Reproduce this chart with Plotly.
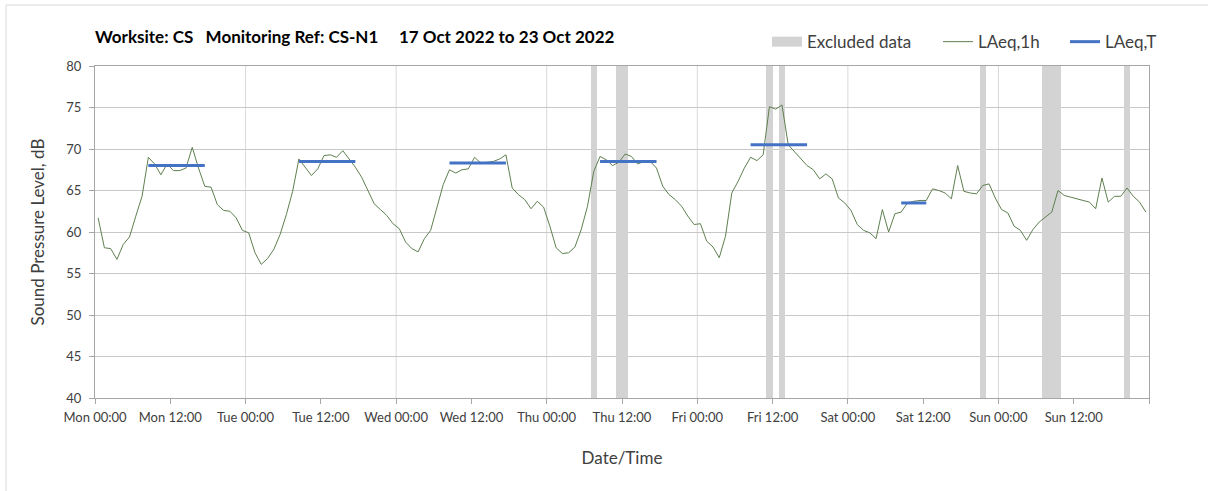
import plotly.graph_objects as go
import pandas as pd

# hourly LAeq,1h, Mon 17 Oct 2022 00:00 .. Sun 23 Oct 2022 23:00
laeq_1h = [
    61.7, 58.1, 58.0, 56.7, 58.5, 59.4, 61.9, 64.3, 69.0, 68.2, 66.9, 68.2,
    67.4, 67.4, 67.7, 70.2, 67.7, 65.5, 65.4, 63.3, 62.6, 62.5, 61.7, 60.2,
    59.9, 57.5, 56.1, 56.8, 57.9, 59.7, 62.1, 64.9, 68.8, 67.8, 66.8, 67.6,
    69.2, 69.3, 69.0, 69.8, 68.8, 67.8, 66.6, 65.1, 63.4, 62.7, 62.0, 61.0,
    60.4, 58.8, 58.0, 57.6, 59.2, 60.2, 62.9, 65.7, 67.5, 67.1, 67.5, 67.6,
    69.0, 68.3, 68.4, 68.5, 68.8, 69.3, 65.3, 64.5, 63.9, 62.8, 63.7, 63.0,
    60.7, 58.1, 57.4, 57.5, 58.2, 60.3, 63.1, 67.3, 69.1, 68.7, 68.0, 68.4,
    69.4, 69.1, 68.2, 68.5, 68.5, 67.7, 65.5, 64.5, 63.9, 63.1, 61.9, 60.9,
    61.0, 58.9, 58.2, 56.9, 59.5, 64.7, 66.1, 67.7, 69.0, 68.6, 69.3, 75.1,
    74.8, 75.3, 70.5, 69.7, 68.8, 68.0, 67.5, 66.4, 67.0, 66.4, 64.1, 63.5,
    62.6, 60.9, 60.2, 59.9, 59.2, 62.7, 60.0, 62.2, 62.4, 63.5, 63.7, 63.8,
    63.8, 65.2, 65.0, 64.7, 64.0, 68.0, 64.9, 64.7, 64.6, 65.6, 65.8, 64.1,
    62.7, 62.3, 60.7, 60.2, 59.0, 60.3, 61.2, 61.8, 62.4, 65.0, 64.4, 64.2,
    64.0, 63.8, 63.6, 62.8, 66.5, 63.6, 64.3, 64.3, 65.3, 64.3, 63.6, 62.4,
]

# hours (from Mon 00:00) flagged as excluded
excluded_hours = [79, 83, 84, 107, 109, 141, 151, 152, 153, 164]

# LAeq,T per day: day index, first hour, last hour, level
laeq_t_day = [0, 1, 2, 3, 4, 5]
laeq_t_first = [8, 8, 8, 8, 8, 8]
laeq_t_last = [17, 17, 17, 17, 17, 12]
laeq_t_value = [68.0, 68.5, 68.3, 68.5, 70.5, 63.5]

start = pd.Timestamp("2022-10-17 00:00")
end = pd.Timestamp("2022-10-24 00:00")
half = pd.Timedelta(minutes=30)
hour = pd.Timedelta(hours=1)

times = [start + i * hour + half for i in range(len(laeq_1h))]

fig = go.Figure()

fig.add_trace(go.Bar(
    x=[start + h * hour + half for h in excluded_hours],
    y=[80] * len(excluded_hours),
    width=3600000,
    marker_color="#D3D3D3",
    marker_line_width=0,
    showlegend=False,
    legendgroup="excl",
    hoverinfo="skip",
))
# legend swatch for the excluded bands (wide grey block)
fig.add_trace(go.Scatter(
    x=[None], y=[None], mode="lines",
    line=dict(color="#D3D3D3", width=12),
    name="Excluded data", legendgroup="excl", legend="legend",
))

fig.add_trace(go.Scatter(
    x=times, y=laeq_1h, mode="lines",
    line=dict(color="#5F7F50", width=1),
    name="LAeq,1h", legend="legend2",
))

tx, ty = [], []
for d, a, b, v in zip(laeq_t_day, laeq_t_first, laeq_t_last, laeq_t_value):
    day0 = start + pd.Timedelta(days=d)
    tx += [day0 + a * hour + half, day0 + b * hour + half, None]
    ty += [v, v, None]
fig.add_trace(go.Scatter(
    x=tx, y=ty, mode="lines",
    line=dict(color="#4472C4", width=3),
    name="LAeq,T", legend="legend3",
))

# daily vertical gridlines
shapes = []
for d in range(1, 7):
    t = start + pd.Timedelta(days=d)
    shapes.append(dict(type="line", xref="x", yref="paper", x0=t, x1=t, y0=0, y1=1,
                       line=dict(color="#D9D9D9", width=1), layer="below"))
# outer chart frame
shapes.append(dict(type="rect", xref="paper", yref="paper", x0=-0.0844, x1=1.3,
                   y0=-0.5, y1=1.1837, line=dict(color="#D9D9D9", width=1), layer="below"))

# x tick labels every 12 h (last tick unlabeled)
tick_times = [start + pd.Timedelta(hours=12 * k) for k in range(15)]
tick_text = [t.strftime("%a %H:%M") for t in tick_times[:-1]] + [""]

leg = dict(orientation="h", yanchor="middle", y=1.072, xanchor="left",
           font=dict(size=17, color="#404040"), bgcolor="rgba(0,0,0,0)")

fig.update_layout(
    width=1208, height=491,
    margin=dict(l=95, r=59, t=66, b=93),
    paper_bgcolor="white", plot_bgcolor="white",
    font=dict(family="Lato", size=13, color="#404040"),
    title=dict(
        text="<b>Worksite: CS&nbsp;&nbsp;&nbsp;Monitoring Ref: CS-N1&nbsp;&nbsp;&nbsp;&nbsp;&nbsp;17 Oct 2022 to 23 Oct 2022</b>",
        x=95 / 1208, xanchor="left", y=1 - 37 / 491, yanchor="middle",
        font=dict(family="Lato", size=17, color="#000000"),
    ),
    showlegend=True,
    legend=dict(leg, x=0.6376),
    legend2=dict(leg, x=0.7998),
    legend3=dict(leg, x=0.9203),
    shapes=shapes,
    bargap=0,
)

fig.update_xaxes(
    type="date", range=[start, end],
    tickmode="array", tickvals=tick_times, ticktext=tick_text,
    showgrid=False, showline=True, linecolor="#A6A6A6", mirror=True,
    ticks="outside", ticklen=5, tickcolor="#A6A6A6", ticklabelstandoff=2,
    tickfont=dict(size=13, color="#404040"),
    title=dict(text="Date/Time", font=dict(size=17, color="#404040"), standoff=28),
    zeroline=False,
)
fig.update_yaxes(
    range=[40, 80], dtick=5,
    showgrid=True, gridcolor="#C8C8C8",
    showline=True, linecolor="#A6A6A6", mirror=True,
    ticks="outside", ticklen=5, tickcolor="#A6A6A6", ticklabelstandoff=5,
    tickfont=dict(size=13, color="#404040"),
    title=dict(text="Sound Pressure Level, dB", font=dict(size=17, color="#404040"), standoff=17),
    zeroline=False,
)

fig.write_html("out.html", config={"displayModeBar": False},
               post_script="document.body.style.margin='0';")
